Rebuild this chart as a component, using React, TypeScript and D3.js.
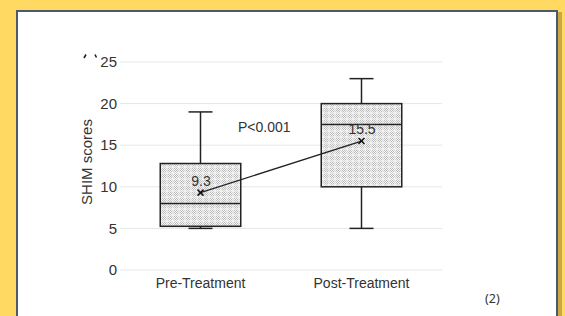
import React from "react";
import * as d3 from "d3";

const categories = ["Pre-Treatment", "Post-Treatment"];
const whiskerLow = [5, 5];
const q1 = [5.25, 10];
const median = [8, 17.5];
const q3 = [12.8, 20];
const whiskerHigh = [19, 23];
const means = [9.3, 15.5];
const meanLabels = ["9.3", "15.5"];
const yTicks = [0, 5, 10, 15, 20, 25];

const W = 565;
const H = 316;

export default function App() {
  const x = d3.scaleBand().domain(categories).range([120, 442]).paddingInner(0).paddingOuter(0);
  const y = d3.scaleLinear().domain([0, 25]).range([270, 62]);
  const bw = x.bandwidth() * 0.5;
  const cx = (c: string) => (x(c) as number) + x.bandwidth() / 2;
  const font = "Liberation Sans, Arial, sans-serif";
  const meanLine = d3.line<number>().x((_, i) => cx(categories[i])).y((d) => y(d));

  return (
    <svg width={W} height={H} style={{ position: "absolute", left: 0, top: 0 }}>
      <defs>
        <pattern id="dots" width="6" height="6" patternUnits="userSpaceOnUse">
          <rect width="6" height="6" fill="#f3f3f3" />
          <rect x="0" y="0" width="1" height="1" fill="#bdbdbd" />
          <rect x="2" y="0" width="1" height="1" fill="#bdbdbd" />
          <rect x="1" y="1" width="1" height="1" fill="#bdbdbd" />
          <rect x="3" y="1" width="1" height="1" fill="#bdbdbd" />
          <rect x="0" y="2" width="1" height="1" fill="#bdbdbd" />
          <rect x="2" y="2" width="1" height="1" fill="#bdbdbd" />
          <rect x="1" y="3" width="1" height="1" fill="#bdbdbd" />
          <rect x="3" y="3" width="1" height="1" fill="#bdbdbd" />
          <rect x="4" y="0" width="1" height="1" fill="#d6d6d6" />
          <rect x="5" y="1" width="1" height="1" fill="#d6d6d6" />
          <rect x="4" y="2" width="1" height="1" fill="#d6d6d6" />
          <rect x="5" y="3" width="1" height="1" fill="#d6d6d6" />
          <rect x="0" y="4" width="1" height="1" fill="#d6d6d6" />
          <rect x="2" y="4" width="1" height="1" fill="#d6d6d6" />
          <rect x="1" y="5" width="1" height="1" fill="#d6d6d6" />
          <rect x="3" y="5" width="1" height="1" fill="#d6d6d6" />
        </pattern>
      </defs>
      <rect width={W} height={H} fill="#FFD961" />
      <rect x={558} y={12} width={4} height={H} fill="#c9a845" />
      <rect x={17} y={11} width={540} height={H} fill="#ffffff" stroke="#4c5a6b" strokeWidth={2} />

      {/* cropped remnant of the panel letter in the source image */}
      <g stroke="#222" strokeWidth={1.6}>
        <line x1={84} y1={58} x2={86} y2={54.5} />
        <line x1={95} y1={54.5} x2={96.5} y2={57.5} />
      </g>

      {yTicks.map((t) => (
        <line key={t} x1={120} x2={442} y1={y(t)} y2={y(t)} stroke="#e6e6e6" strokeWidth={1} />
      ))}
      {yTicks.map((t) => (
        <text key={"l" + t} x={117} y={y(t)} dy="0.35em" textAnchor="end" fontFamily={font} fontSize={15} fill="#333">
          {t}
        </text>
      ))}
      <text transform={`translate(92,162) rotate(-90)`} textAnchor="middle" fontFamily={font} fontSize={15} fill="#333">
        SHIM scores
      </text>
      {categories.map((c) => (
        <text key={c} x={cx(c)} y={288} textAnchor="middle" fontFamily={font} fontSize={14} fill="#333">
          {c}
        </text>
      ))}

      {categories.map((c, i) => {
        const m = cx(c);
        return (
          <g key={c} stroke="#222" strokeWidth={1.5}>
            <line x1={m} x2={m} y1={y(whiskerHigh[i])} y2={y(q3[i])} />
            <line x1={m} x2={m} y1={y(q1[i])} y2={y(whiskerLow[i])} />
            <line x1={m - 12} x2={m + 12} y1={y(whiskerHigh[i])} y2={y(whiskerHigh[i])} />
            <line x1={m - 12} x2={m + 12} y1={y(whiskerLow[i])} y2={y(whiskerLow[i])} />
            <rect x={m - bw / 2} y={y(q3[i])} width={bw} height={y(q1[i]) - y(q3[i])} fill="url(#dots)" />
            <line x1={m - bw / 2} x2={m + bw / 2} y1={y(median[i])} y2={y(median[i])} />
          </g>
        );
      })}

      <path d={meanLine(means) || ""} fill="none" stroke="#222" strokeWidth={1.3} />
      {means.map((v, i) => {
        const m = cx(categories[i]);
        const yy = y(v);
        return (
          <g key={i} stroke="#111" strokeWidth={1.5}>
            <line x1={m - 3} x2={m + 3} y1={yy - 3} y2={yy + 3} />
            <line x1={m - 3} x2={m + 3} y1={yy + 3} y2={yy - 3} />
          </g>
        );
      })}
      {means.map((v, i) => (
        <text key={"m" + i} x={cx(categories[i]) + 0.5} y={y(v) - 7} textAnchor="middle" fontFamily={font} fontSize={14} fill="#333">
          {meanLabels[i]}
        </text>
      ))}
      <text x={238} y={132} fontFamily={font} fontSize={14} fill="#333">P&lt;0.001</text>
      <text x={485} y={303} fontFamily="Noto Sans, sans-serif" fontSize={12.5} fill="#333">(2)</text>
    </svg>
  );
}
